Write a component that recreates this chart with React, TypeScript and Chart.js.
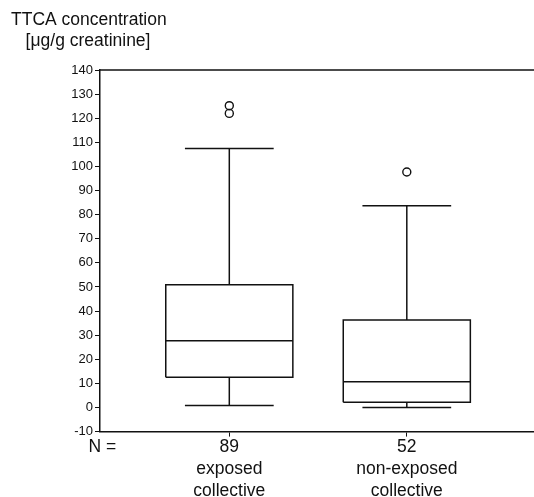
import React, { useEffect, useRef } from 'react';
import { Chart, registerables } from 'chart.js';

Chart.register(...registerables);

// ---------- data ----------
const groupX = [1, 2];
const groupN = [89, 52];
const groupNames = [
  ['exposed', 'collective'],
  ['non-exposed', 'collective'],
];
const lowerWhisker = [0.8, 0];
const q1 = [12.5, 2.2];
const median = [27.7, 10.7];
const q3 = [50.9, 36.3];
const upperWhisker = [107.4, 83.7];
const outliers = [[125.2, 122.0], [97.7]];
const yTickMin = -10;
const yTickMax = 140;
const yTickStep = 10;
const nLabel = 'N =';
const titleLines = ['TTCA concentration', '   [μg/g creatinine]'];

// ---------- style / layout constants ----------
const INK = '#111';
const FONT = "'Liberation Sans', Arial, Helvetica, sans-serif";
const BOX_HALF = 0.358;
const CAP_HALF = 0.25;
const X_MIN = 0.2715;
const X_MAX = 2.7166;
const N_POS = 0.2845;

type P = { x: number; y: number | null };

function buildBoxes(): P[] {
  const pts: P[] = [];
  groupX.forEach((x, i) => {
    pts.push({ x: x - BOX_HALF, y: q1[i] });
    pts.push({ x: x + BOX_HALF, y: q1[i] });
    pts.push({ x: x + BOX_HALF, y: q3[i] });
    pts.push({ x: x - BOX_HALF, y: q3[i] });
    pts.push({ x: x - BOX_HALF, y: q1[i] });
    pts.push({ x, y: null });
  });
  return pts;
}

function buildWhiskers(): P[] {
  const pts: P[] = [];
  groupX.forEach((x, i) => {
    pts.push({ x, y: q3[i] }, { x, y: upperWhisker[i] }, { x, y: null });
    pts.push({ x: x - CAP_HALF, y: upperWhisker[i] }, { x: x + CAP_HALF, y: upperWhisker[i] }, { x, y: null });
    pts.push({ x, y: q1[i] }, { x, y: lowerWhisker[i] }, { x, y: null });
    pts.push({ x: x - CAP_HALF, y: lowerWhisker[i] }, { x: x + CAP_HALF, y: lowerWhisker[i] }, { x, y: null });
  });
  return pts;
}

function buildMedians(): P[] {
  const pts: P[] = [];
  groupX.forEach((x, i) => {
    pts.push({ x: x - BOX_HALF, y: median[i] }, { x: x + BOX_HALF, y: median[i] }, { x, y: null });
  });
  return pts;
}

function buildOutliers(): P[] {
  const pts: P[] = [];
  groupX.forEach((x, i) => {
    outliers[i].forEach((v) => pts.push({ x, y: v }));
  });
  return pts;
}

const topBorder = {
  id: 'topBorder',
  afterDraw(chart: any) {
    const { ctx, chartArea } = chart;
    ctx.save();
    ctx.strokeStyle = INK;
    ctx.lineWidth = 1.5;
    ctx.beginPath();
    ctx.moveTo(chartArea.left, chartArea.top);
    ctx.lineTo(chartArea.right, chartArea.top);
    ctx.stroke();
    ctx.restore();
  },
};

const lineStyle = {
  borderColor: INK,
  borderWidth: 1.5,
  pointRadius: 0,
  pointHoverRadius: 0,
  spanGaps: false,
  tension: 0,
  fill: false,
  borderJoinStyle: 'miter' as const,
  borderCapStyle: 'butt' as const,
};

export default function App() {
  const ref = useRef<HTMLCanvasElement | null>(null);

  useEffect(() => {
    if (!ref.current) return;
    const chart = new Chart(ref.current, {
      type: 'line',
      data: {
        datasets: [
          { label: 'box', data: buildBoxes(), ...lineStyle } as any,
          { label: 'whiskers', data: buildWhiskers(), ...lineStyle } as any,
          { label: 'median', data: buildMedians(), ...lineStyle } as any,
          {
            type: 'scatter',
            label: 'outliers',
            data: buildOutliers(),
            pointStyle: 'circle',
            pointRadius: 4,
            pointHoverRadius: 4,
            borderWidth: 1.4,
            borderColor: INK,
            backgroundColor: 'rgba(0,0,0,0)',
            showLine: false,
          } as any,
        ],
      },
      options: {
        responsive: false,
        animation: false,
        events: [],
        layout: { autoPadding: false, padding: { left: 11, right: 0, top: 0, bottom: 0 } },
        plugins: {
          legend: { display: false },
          tooltip: { enabled: false },
          title: {
            display: true,
            text: titleLines,
            align: 'start',
            color: INK,
            font: { family: FONT, size: 17.5, weight: 'normal', lineHeight: 1.2 },
            padding: { top: 9.5, bottom: 18.5 },
          },
        },
        scales: {
          x: {
            type: 'linear',
            min: X_MIN,
            max: X_MAX,
            afterBuildTicks: (s: any) => {
              s.ticks = [{ value: N_POS }, ...groupX.map((v) => ({ value: v }))];
            },
            afterFit: (s: any) => {
              s.height = 65.4;
              s.paddingLeft = 0;
              s.paddingRight = 0;
            },
            ticks: {
              autoSkip: false,
              maxRotation: 0,
              minRotation: 0,
              padding: 0,
              color: INK,
              font: { family: FONT, size: 17.5, lineHeight: 1.25 },
              callback: (_v: any, i: number) =>
                i === 0 ? nLabel : [String(groupN[i - 1]), ...groupNames[i - 1]],
            },
            grid: {
              drawOnChartArea: false,
              drawTicks: true,
              tickLength: 5,
              lineWidth: 1,
              color: (ctx: any) => (ctx.index === 0 ? 'rgba(0,0,0,0)' : INK),
            },
            border: { display: true, color: INK, width: 1.5 },
          },
          y: {
            type: 'linear',
            min: yTickMin,
            max: yTickMax,
            afterFit: (s: any) => {
              s.width = 89;
            },
            ticks: {
              stepSize: yTickStep,
              padding: 2,
              color: INK,
              font: { family: FONT, size: 13 },
            },
            grid: {
              drawOnChartArea: false,
              drawTicks: true,
              tickLength: 5,
              lineWidth: 1,
              color: INK,
            },
            border: { display: true, color: INK, width: 1.5 },
          },
        },
      } as any,
      plugins: [topBorder],
    });
    return () => chart.destroy();
  }, []);

  return (
    <div style={{ position: 'absolute', left: 0, top: 0, width: 534, height: 497, background: '#fff' }}>
      <canvas ref={ref} width={534} height={497} style={{ display: 'block' }} />
    </div>
  );
}
